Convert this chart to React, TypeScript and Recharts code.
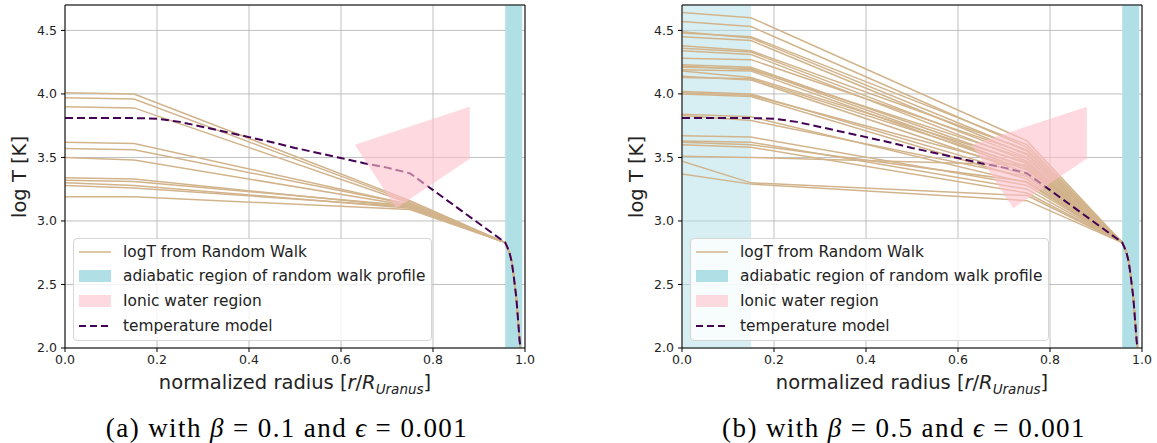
import React from 'react'
import {
  ComposedChart,
  Line,
  Area,
  XAxis,
  YAxis,
  CartesianGrid,
  ReferenceArea,
  ReferenceLine,
} from 'recharts'

// radius nodes of the random walk profiles
const radiusNodes = [0, 0.15, 0.75, 0.957]
const junctionT = 2.83

// adiabatic tail shared by every profile (below the junction)
const tailR = [0.962, 0.967, 0.971, 0.975, 0.978, 0.981, 0.983, 0.986, 0.988, 0.99]
const tailT = [2.79, 2.74, 2.68, 2.58, 2.49, 2.4, 2.31, 2.17, 2.07, 2.0]

// temperature model (dashed)
const modelR = [0, 0.15, 0.2, 0.25, 0.3, 0.35, 0.4, 0.45, 0.5, 0.55, 0.6, 0.65, 0.7, 0.75, 0.957]
const modelT = [3.81, 3.81, 3.805, 3.78, 3.74, 3.7, 3.66, 3.62, 3.575, 3.535, 3.495, 3.455, 3.42, 3.375, 2.83]

// ionic water polygon as a ranged area
const ionicR = [0.63, 0.72, 0.88]
const ionicLow = [3.6, 3.1, 3.49]
const ionicHigh = [3.6, 3.708, 3.9]

// beta = 0.1
const lowStart = [4.01, 3.97, 3.9, 3.62, 3.57, 3.5, 3.34, 3.32, 3.3, 3.28, 3.19]
const lowCore = [4.0, 3.96, 3.89, 3.61, 3.56, 3.48, 3.33, 3.31, 3.28, 3.26, 3.19]
const lowMid = [3.16, 3.15, 3.14, 3.13, 3.13, 3.12, 3.11, 3.12, 3.1, 3.11, 3.09]

// beta = 0.5
const highStart = [4.64, 4.57, 4.49, 4.48, 4.45, 4.38, 4.36, 4.34, 4.28, 4.23, 4.22, 4.21, 4.19, 4.18,
  4.14, 4.13, 4.02, 4.01, 4.0, 3.84, 3.83, 3.67, 3.63, 3.62, 3.6, 3.51, 3.47, 3.37]
const highCore = [4.6, 4.53, 4.44, 4.45, 4.42, 4.34, 4.33, 4.31, 4.27, 4.21, 4.19, 4.2, 4.18, 4.13,
  4.11, 4.12, 4.0, 3.99, 3.98, 3.82, 3.79, 3.66, 3.62, 3.6, 3.58, 3.5, 3.3, 3.29]
const highMid = [3.63, 3.58, 3.55, 3.6, 3.52, 3.56, 3.5, 3.47, 3.53, 3.45, 3.49, 3.42, 3.4, 3.46,
  3.38, 3.43, 3.36, 3.41, 3.33, 3.3, 3.35, 3.28, 3.25, 3.31, 3.22, 3.44, 3.2, 3.16]

const xTicks = [0, 0.2, 0.4, 0.6, 0.8, 1.0]
const yTicks = [2.0, 2.5, 3.0, 3.5, 4.0, 4.5]

const TAN = '#d2b48c'
const PURPLE = '#440154'
const POWDER = '#b0e0e6'
const PINK = '#ffc0cb'
const FONT = '"DejaVu Sans", sans-serif'
const MARGIN = { top: 5, right: 15, bottom: 0, left: 0 }

const tail = tailR.map((r, i) => ({ r, t: tailT[i] }))

function walkSeries(start: number[], core: number[], mid: number[]) {
  return start.map((s, i) => [
    { r: radiusNodes[0], t: s },
    { r: radiusNodes[1], t: core[i] },
    { r: radiusNodes[2], t: mid[i] },
    { r: radiusNodes[3], t: junctionT },
    ...tail,
  ])
}

const modelData = [...modelR.map((r, i) => ({ r, t: modelT[i] })), ...tail]
const ionicData = ionicR.map((r, i) => ({ r, band: [ionicLow[i], ionicHigh[i]] }))

function Legend() {
  const rows = [
    { label: 'logT from Random Walk', kind: 'line' },
    { label: 'adiabatic region of random walk profile', kind: 'blue' },
    { label: 'Ionic water region', kind: 'pink' },
    { label: 'temperature model', kind: 'dash' },
  ]
  return (
    <div
      style={{
        position: 'absolute',
        left: 73,
        top: 238,
        width: 357,
        height: 101,
        border: '1px solid #d6d6d6',
        borderRadius: 4,
        background: 'rgba(255,255,255,0.8)',
        fontFamily: FONT,
        fontSize: 15.4,
        color: '#222',
      }}
    >
      {rows.map((row, i) => (
        <div key={row.label} style={{ position: 'absolute', left: 0, top: 1.5 + i * 24.7, height: 22, width: '100%' }}>
          <svg width={40} height={22} style={{ position: 'absolute', left: 4, top: 0 }}>
            {row.kind === 'line' && <line x1={1} x2={33} y1={11} y2={11} stroke={TAN} strokeWidth={1.5} />}
            {row.kind === 'blue' && <rect x={1} y={5} width={32} height={12} fill={POWDER} />}
            {row.kind === 'pink' && <rect x={1} y={5} width={32} height={12} fill={PINK} fillOpacity={0.6} />}
            {row.kind === 'dash' && (
              <line x1={1} x2={33} y1={11} y2={11} stroke={PURPLE} strokeWidth={2} strokeDasharray="7 4" />
            )}
          </svg>
          <span style={{ position: 'absolute', left: 49, top: 0, lineHeight: '22px', whiteSpace: 'nowrap' }}>
            {row.label}
          </span>
        </div>
      ))}
    </div>
  )
}

interface PanelProps {
  left: number
  start: number[]
  core: number[]
  mid: number[]
  coreBand: boolean
  tag: string
  beta: string
}

function Panel({ left, start, core, mid, coreBand, tag, beta }: PanelProps) {
  const walks = walkSeries(start, core, mid)
  return (
    <div style={{ position: 'absolute', left, top: 0, width: 540, height: 443 }}>
      <ComposedChart width={540} height={380} margin={MARGIN}>
        <CartesianGrid stroke="#b0b0b0" strokeWidth={0.8} />
        <XAxis
          dataKey="r"
          type="number"
          domain={[0, 1]}
          ticks={xTicks}
          tickFormatter={(v: number) => v.toFixed(1)}
          height={32}
          tickSize={4}
          tickMargin={3}
          stroke="#000"
          tick={{ fill: '#222', fontSize: 12.5, fontFamily: FONT }}
          allowDataOverflow
        />
        <YAxis
          type="number"
          domain={[2.0, 4.7]}
          ticks={yTicks}
          tickFormatter={(v: number) => v.toFixed(1)}
          width={65}
          tickSize={4}
          tickMargin={4}
          stroke="#000"
          tick={{ fill: '#222', fontSize: 12.5, fontFamily: FONT }}
          allowDataOverflow
        />
        {coreBand && (
          <ReferenceArea x1={0} x2={0.15} y1={2.0} y2={4.7} fill={POWDER} fillOpacity={0.5} stroke="none" />
        )}
        <ReferenceArea x1={0.957} x2={0.994} y1={2.0} y2={4.7} fill={POWDER} fillOpacity={1} stroke="none" />
        {walks.map((d, i) => (
          <Line
            key={`w${i}`}
            data={d}
            dataKey="t"
            type="linear"
            stroke={TAN}
            strokeWidth={1.5}
            dot={false}
            isAnimationActive={false}
          />
        ))}
        <Line
          data={modelData}
          dataKey="t"
          type="linear"
          stroke={PURPLE}
          strokeWidth={2}
          strokeDasharray="8 4"
          dot={false}
          isAnimationActive={false}
        />
        <ReferenceLine y={4.7} stroke="#000" strokeWidth={1} />
        <ReferenceLine x={1.0} stroke="#000" strokeWidth={1} />
      </ComposedChart>
      {/* ionic water region drawn on top of the profiles, same plot box */}
      <div style={{ position: 'absolute', left: 0, top: 0 }}>
        <ComposedChart width={540} height={380} margin={{ top: 5, right: 15, bottom: 32, left: 65 }}>
          <XAxis dataKey="r" type="number" domain={[0, 1]} hide />
          <YAxis type="number" domain={[2.0, 4.7]} hide />
          <Area
            data={ionicData}
            dataKey="band"
            type="linear"
            fill={PINK}
            fillOpacity={0.6}
            stroke="none"
            isAnimationActive={false}
          />
        </ComposedChart>
      </div>
      <Legend />
      <div
        style={{
          position: 'absolute',
          left: 19,
          top: 177,
          transform: 'translate(-50%, -50%) rotate(-90deg)',
          fontFamily: FONT,
          fontSize: 19.5,
          color: '#222',
          whiteSpace: 'nowrap',
        }}
      >
        log T [K]
      </div>
      <div
        style={{
          position: 'absolute',
          left: 295,
          top: 384,
          transform: 'translate(-50%, -50%)',
          fontFamily: FONT,
          fontSize: 19.5,
          color: '#222',
          whiteSpace: 'nowrap',
        }}
      >
        normalized radius [<i>r</i>/<i>R</i>
        <sub style={{ fontSize: 13.5, fontStyle: 'italic' }}>Uranus</sub>]
      </div>
      <div
        style={{
          position: 'absolute',
          left: 287,
          top: 428,
          transform: 'translate(-50%, -50%)',
          fontFamily: '"Liberation Serif", serif',
          fontSize: 27,
          letterSpacing: 1.4,
          color: '#000',
          whiteSpace: 'nowrap',
        }}
      >
        ({tag}) with <i>β</i>
        {'\u2005=\u2005'}
        {beta} and <i>ϵ</i>
        {'\u2005=\u2005'}0.001
      </div>
    </div>
  )
}

export default function App() {
  return (
    <div style={{ position: 'absolute', left: 0, top: 0, width: 1157, height: 443, background: '#fff' }}>
      <Panel left={0} start={lowStart} core={lowCore} mid={lowMid} coreBand={false} tag="a" beta="0.1" />
      <Panel left={617} start={highStart} core={highCore} mid={highMid} coreBand tag="b" beta="0.5" />
    </div>
  )
}
